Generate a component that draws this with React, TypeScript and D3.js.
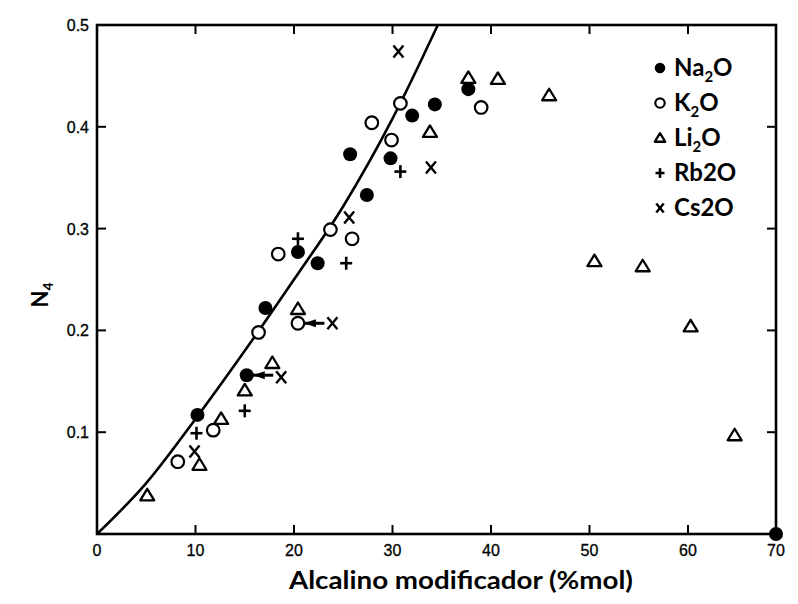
import React from "react";
import * as d3 from "d3";

const na2oX = [10.2, 15.2, 17.1, 20.4, 22.4, 25.7, 27.4, 29.8, 32.0, 34.3, 37.7, 70];
const na2oY = [0.117, 0.156, 0.222, 0.277, 0.266, 0.373, 0.333, 0.369, 0.411, 0.422, 0.437, 0];

const k2oX = [8.2, 11.8, 16.4, 20.4, 18.4, 23.7, 25.9, 27.9, 29.9, 30.8, 39.0];
const k2oY = [0.071, 0.102, 0.198, 0.207, 0.275, 0.299, 0.29, 0.404, 0.387, 0.423, 0.419];

const li2oX = [5.1, 10.4, 12.6, 15.0, 17.8, 20.4, 33.8, 37.7, 40.7, 45.9, 50.5, 55.4, 60.3, 65.3];
const li2oY = [0.038, 0.068, 0.113, 0.141, 0.168, 0.221, 0.395, 0.448, 0.447, 0.431, 0.268, 0.263, 0.204, 0.097];

const rb2oX = [10.1, 15.0, 20.4, 25.3, 30.8];
const rb2oY = [0.099, 0.121, 0.29, 0.266, 0.356];

const cs2oX = [9.9, 18.7, 23.9, 25.6, 30.6, 33.9];
const cs2oY = [0.081, 0.154, 0.207, 0.311, 0.474, 0.36];

// theoretical curve
const curveX = [0, 5, 10, 15, 20, 25, 30, 34.6];
const curveY = [0, 0.05, 0.113, 0.18, 0.25, 0.322, 0.408, 0.5];

// arrows: [cs2o index, target series, target index]
const arrows: [number, string, number][] = [
  [1, "na", 1],
  [2, "k", 3],
];

const xTickValues = [0, 10, 20, 30, 40, 50, 60, 70];
const xTickLabels = ["0", "10", "20", "30", "40", "50", "60", "70"];
const yTickValues = [0.1, 0.2, 0.3, 0.4, 0.5];
const yTickLabels = ["0.1", "0.2", "0.3", "0.4", "0.5"];

const legendLabels = [
  { main: "Na", sub: "2", tail: "O", kind: "filled" },
  { main: "K", sub: "2", tail: "O", kind: "open" },
  { main: "Li", sub: "2", tail: "O", kind: "tri" },
  { main: "Rb2O", sub: "", tail: "", kind: "plus" },
  { main: "Cs2O", sub: "", tail: "", kind: "cross" },
];

const FONT = "Lato, 'Open Sans', 'Liberation Sans', sans-serif";
const TICKFONT = "'Liberation Sans', Arial, sans-serif";

function Marker({ kind, x, y, s = 1 }: { kind: string; x: number; y: number; s?: number }) {
  if (kind === "filled") return <circle cx={x} cy={y} r={7 * s} fill="#000" />;
  if (kind === "open")
    return <circle cx={x} cy={y} r={6.3 * s} fill="#fff" stroke="#000" strokeWidth={2.2} />;
  if (kind === "tri")
    return (
      <path
        d={`M${x},${y - 6.5 * s} L${x + 7 * s},${y + 5 * s} L${x - 7 * s},${y + 5 * s} Z`}
        fill="#fff"
        stroke="#000"
        strokeWidth={2.3}
        strokeLinejoin="round"
      />
    );
  if (kind === "plus")
    return (
      <g stroke="#000" strokeWidth={2.6}>
        <line x1={x - 6 * s} x2={x + 6 * s} y1={y} y2={y} />
        <line x1={x} x2={x} y1={y - 6.5 * s} y2={y + 6.5 * s} />
      </g>
    );
  return (
    <g stroke="#000" strokeWidth={2.4}>
      <line x1={x - 5 * s} x2={x + 5 * s} y1={y - 6 * s} y2={y + 6 * s} />
      <line x1={x - 5 * s} x2={x + 5 * s} y1={y + 6 * s} y2={y - 6 * s} />
    </g>
  );
}

export default function App() {
  const W = 798;
  const H = 604;
  const x = d3.scaleLinear().domain([0, 60, 70]).range([97, 688, 776]);
  const y = d3.scaleLinear().domain([0, 0.5]).range([534, 25]);
  const [x0, x1] = [x(0), x(70)];
  const [y0, y1] = [y(0), y(0.5)];

  const line = d3
    .line<number>()
    .x((_, i) => x(curveX[i]))
    .y((_, i) => y(curveY[i]))
    .curve(d3.curveMonotoneX);

  const series = [
    { kind: "filled", xs: na2oX, ys: na2oY },
    { kind: "open", xs: k2oX, ys: k2oY },
    { kind: "tri", xs: li2oX, ys: li2oY },
    { kind: "plus", xs: rb2oX, ys: rb2oY },
    { kind: "cross", xs: cs2oX, ys: cs2oY },
  ];
  const tl = 9;

  return (
    <svg
      width={W}
      height={H}
      style={{ position: "absolute", left: 0, top: 0, background: "#fff" }}
    >
      <rect x={0} y={0} width={W} height={H} fill="#fff" />
      {/* frame */}
      <rect
        x={x0}
        y={y1}
        width={x1 - x0}
        height={y0 - y1}
        fill="none"
        stroke="#000"
        strokeWidth={2.6}
      />
      {/* ticks */}
      {xTickValues.slice(1, -1).map((v) => (
        <g key={"xt" + v} stroke="#000" strokeWidth={2}>
          <line x1={x(v)} x2={x(v)} y1={y0} y2={y0 - tl} />
          <line x1={x(v)} x2={x(v)} y1={y1} y2={y1 + tl} />
        </g>
      ))}
      {yTickValues.slice(0, -1).map((v) => (
        <g key={"yt" + v} stroke="#000" strokeWidth={2}>
          <line x1={x0} x2={x0 + tl} y1={y(v)} y2={y(v)} />
          <line x1={x1} x2={x1 - tl} y1={y(v)} y2={y(v)} />
        </g>
      ))}
      {xTickValues.map((v, i) => (
        <text
          key={"xl" + v}
          x={x(v)}
          y={y0 + 22}
          textAnchor="middle"
          fontFamily={TICKFONT}
          fontSize={16}
          fill="#000"
          stroke="#000"
          strokeWidth={0.3}
        >
          {xTickLabels[i]}
        </text>
      ))}
      {yTickValues.map((v, i) => (
        <text
          key={"yl" + v}
          x={x0 - 8}
          y={y(v) + 6}
          textAnchor="end"
          fontFamily={TICKFONT}
          fontSize={16}
          fill="#000"
          stroke="#000"
          strokeWidth={0.3}
        >
          {yTickLabels[i]}
        </text>
      ))}
      {/* axis titles */}
      <text
        x={461}
        y={589}
        textAnchor="middle"
        fontFamily={FONT}
        fontWeight={700}
        fontSize={25}
        textLength={344}
        lengthAdjust="spacingAndGlyphs"
        fill="#000"
      >
        Alcalino modificador (%mol)
      </text>
      <text
        transform="translate(48,295) rotate(-90)"
        textAnchor="middle"
        fontFamily={FONT}
        fontWeight={700}
        fontSize={22}
        fill="#000"
      >
        N<tspan fontSize={14} dy={5}>4</tspan>
      </text>
      {/* curve */}
      <path d={line(curveX) || ""} fill="none" stroke="#000" strokeWidth={2.6} />
      {/* arrows */}
      {arrows.map(([ci, tgt, ti], k) => {
        const sx = x(cs2oX[ci]) - 8;
        const tx = tgt === "na" ? x(na2oX[ti]) + 6 : x(k2oX[ti]) + 6;
        const ty = tgt === "na" ? y(na2oY[ti]) : y(k2oY[ti]);
        const hx = tx + 4;
        return (
          <g key={"ar" + k}>
            <line x1={sx} y1={ty} x2={tx} y2={ty} stroke="#000" strokeWidth={3} />
            <path
              d={`M${hx - 4},${ty} L${hx + 8},${ty - 4} L${hx + 8},${ty + 4} Z`}
              fill="#000"
            />
          </g>
        );
      })}
      {/* points */}
      {series.map((s) =>
        s.xs.map((v, i) => (
          <Marker key={s.kind + i} kind={s.kind} x={x(v)} y={y(s.ys[i])} />
        ))
      )}
      {/* legend */}
      {legendLabels.map((l, i) => {
        const cy = 68 + i * 35;
        return (
          <g key={"lg" + i}>
            <Marker kind={l.kind} x={660} y={cy} s={0.75} />
            <text
              x={674}
              y={cy + 8}
              fontFamily={FONT}
              fontWeight={700}
              fontSize={24}
              fill="#000"
            >
              {l.main}
              {l.sub ? (
                <tspan fontSize={15} dy={6}>
                  {l.sub}
                </tspan>
              ) : null}
              {l.tail ? <tspan dy={-6}>{l.tail}</tspan> : null}
            </text>
          </g>
        );
      })}
    </svg>
  );
}
